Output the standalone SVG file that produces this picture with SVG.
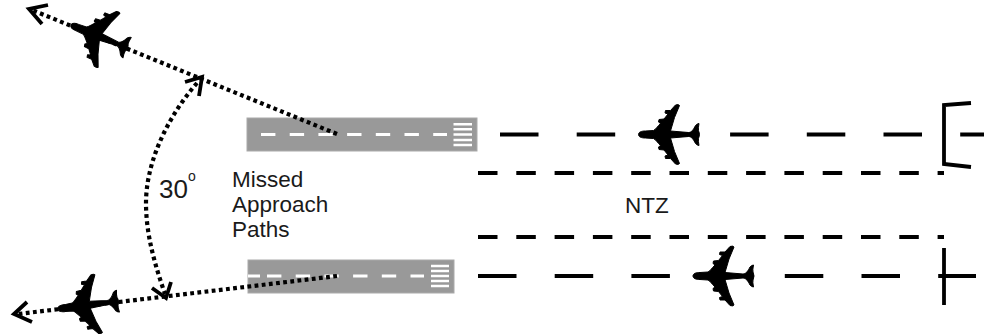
<svg xmlns="http://www.w3.org/2000/svg" width="984" height="336" viewBox="0 0 984 336">
<style>
.rw{fill:#999;stroke:#aaa;stroke-width:1}
.c{stroke:#fff;stroke-width:3;fill:none}
.b{stroke:#fff;stroke-width:2.6;fill:none}
.long{stroke:#000;stroke-width:4;fill:none;stroke-dasharray:38.5 38.2}
.short{stroke:#000;stroke-width:4;fill:none;stroke-dasharray:19.5 18.8}
.dot{stroke:#000;stroke-width:4.2;fill:none;stroke-dasharray:3.8 3.4}
.head{stroke:#000;stroke-width:3.8;fill:none}
.t{font-family:"Liberation Sans",Arial,sans-serif;font-size:22.5px;fill:#1a1a1a}
.pl{stroke:#000;stroke-width:1;stroke-linejoin:round}
</style>
<defs>
<path id="plane" fill="#000" d="M0,0 C0,-2.5 3,-3.5 7,-3.5 L15,-4 C17,-5 19,-8 22,-11 L20,-12.5 L20.5,-15 L25.5,-15.5 L29.5,-20.5 L26.5,-21.5 L27,-24 L32,-24 L37,-29.5 Q40,-30.5 41,-29 L36,-17 L32,-3.5 L50,-2 C53,-2 55,-5 57,-9 Q59,-11 60.5,-11 Q59.5,-6 60,-4 Q62,0 60,4 Q59.5,6 60.5,11 Q59,11 57,9 C55,5 53,2 50,2 L32,3.5 L36,17 L41,29 Q40,30.5 37,29.5 L32,24 L27,24 L26.5,21.5 L29.5,20.5 L25.5,15.5 L20.5,15 L20,12.5 L22,11 C19,8 17,5 15,4 L7,3.5 C3,3.5 0,2.5 0,0 Z"/>
</defs>
<rect width="984" height="336" fill="#fff"/>
<g id="runway-top">
<rect class="rw" x="247" y="118" width="230" height="33"/>
<path class="c" d="M261,134.5H447" stroke-dasharray="14.4 14.3"/>
<path class="b" d="M453.500,124.300H472M453.500,129.300H472M453.500,134.500H472M453.500,140H472M453.500,145H472"/>
</g>
<g id="runway-bottom">
<rect class="rw" x="248" y="260" width="206" height="33"/>
<path class="c" d="M248,276H260M267,276H424" stroke-dasharray="14.4 14.3"/>
<path class="b" d="M431,266H449M431,271H449M431,276H449M431,281H449M431,286H449"/>
</g>
<g id="connectors">
<path class="long" d="M500,134.500H984"/>
<path class="long" d="M478,276H976"/>
<path class="short" d="M478,173H944"/>
<path class="short" d="M478,237H944"/>
<path class="dot" d="M337,134L32,10"/>
<path class="head" d="M48,5L29,9L42,24"/>
<path class="dot" d="M337,276L18,314"/>
<path class="head" d="M27,302L14,314L32,322"/>
<path class="dot" d="M197,83C165,120 146,165 146,203C146,235 155,265 165,294"/>
<path class="head" d="M185,82L202,77L199,96"/>
<path class="head" d="M152,288L166,298L171,282"/>
</g>
<g id="threshold-top"><path class="head" d="M971,103L944,105V164L971,167"/></g>
<g id="threshold-bottom"><path class="head" d="M944,248V305"/></g>
<g id="plane-upper-left"><use class="pl" href="#plane" transform="translate(71,25) rotate(22)"/></g>
<g id="plane-lower-left"><use class="pl" href="#plane" transform="translate(58,309) rotate(-7.500)"/></g>
<g id="plane-top"><use class="pl" href="#plane" transform="translate(638.500,134.500)"/></g>
<g id="plane-bottom"><use class="pl" href="#plane" transform="translate(693,276)"/></g>
<g id="label-angle"><text class="t" x="159" y="198" style="font-size:26px">30<tspan dy="-17" style="font-size:14px">o</tspan></text></g>
<g id="label-missed"><text class="t" x="232" y="187">Missed</text><text class="t" x="232" y="212">Approach</text><text class="t" x="232" y="237">Paths</text></g>
<g id="label-ntz"><text class="t" x="625" y="213">NTZ</text></g>
</svg>
